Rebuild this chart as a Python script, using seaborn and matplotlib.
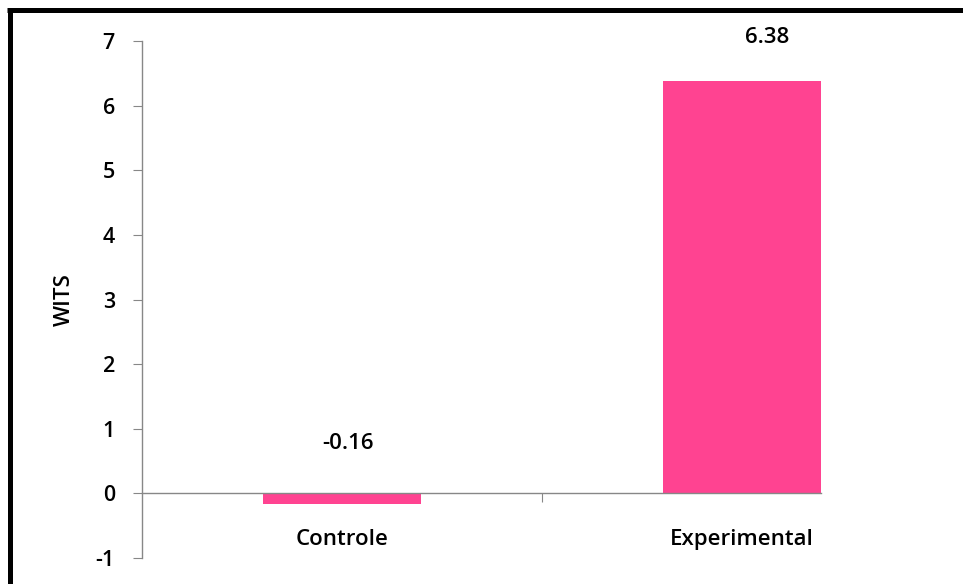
import matplotlib
matplotlib.use("Agg")
import matplotlib.pyplot as plt
import seaborn as sns
import pandas as pd
from matplotlib.lines import Line2D

categories = ["Controle", "Experimental"]
values = [-0.16, 6.38]
value_labels = ["-0.16", "6.38"]
y_ticks = [-1, 0, 1, 2, 3, 4, 5, 6, 7]
y_label = "WITS"

sns.set_theme(style="white")
plt.rcParams['font.family'] = ['Open Sans', 'DejaVu Sans']
plt.rcParams['font.weight'] = 'semibold'
plt.rcParams['text.color'] = 'black'
plt.rcParams['xtick.color'] = 'black'
plt.rcParams['ytick.color'] = 'black'

FS = 16
WT = 'semibold'

df = pd.DataFrame({"grupo": categories, "valor": values})

fig = plt.figure(figsize=(9.63, 5.84), dpi=100)
ax = fig.add_axes([142/963, 26/584, 800/963, 517/584])

bar_w = 0.395
sns.barplot(data=df, x="grupo", y="valor", color="#FF4391", width=bar_w,
            saturation=1, ax=ax, linewidth=0)

ax.set_xlim(-0.5, 1.5)
ax.set_ylim(-1, 7)
ax.set_yticks(y_ticks)
ax.set_yticklabels([str(t) for t in y_ticks], fontsize=15.5, fontweight=WT, color='black')

spine_c = "#878787"
for s in ["top", "right"]:
    ax.spines[s].set_visible(False)
ax.spines["left"].set_color(spine_c)
ax.spines["left"].set_linewidth(1.0)
ax.spines["bottom"].set_position(("data", 0))
ax.spines["bottom"].set_color(spine_c)
ax.spines["bottom"].set_linewidth(1.0)
ax.spines["bottom"].set_bounds(-0.5, 1 + bar_w / 2)

ax.tick_params(axis="y", direction="out", length=6.5, width=0.8, color=spine_c,
               pad=13, left=True, labelcolor='black')
ax.set_xticks([0, 1])
ax.set_xticklabels(categories, fontsize=FS, fontweight=WT, color='black')
ax.tick_params(axis="x", which="major", length=0, pad=26, bottom=True, labelcolor='black')
ax.set_xticks([0.5], minor=True)
ax.tick_params(axis="x", which="minor", direction="out", length=6.5, width=0.8,
               color=spine_c, bottom=True)

ax.set_xlabel("")
ax.set_ylabel(y_label, fontsize=FS, fontweight=WT, color='black')
ax.yaxis.set_label_coords(-0.0835, 0.499)

# data labels (above bar top / zero line)
label_dx = [4, 18]     # horizontal offset in points
label_dy = [0.77, 0.68]  # vertical offset in data units
for i, (v, lab) in enumerate(zip(values, value_labels)):
    ax.annotate(lab, xy=(i, max(v, 0) + label_dy[i]), xytext=(label_dx[i], 0),
                textcoords="offset points", ha="center", va="center",
                fontsize=FS, fontweight=WT, color='black', annotation_clip=False)

# frame lines
fig.add_artist(Line2D([7/963, 1.0], [1 - 10/584, 1 - 10/584], transform=fig.transFigure,
                      color="black", lw=3.6, solid_capstyle="butt"))
fig.add_artist(Line2D([9.5/963, 9.5/963], [0, 1 - 8/584], transform=fig.transFigure,
                      color="black", lw=3.6, solid_capstyle="butt"))

fig.savefig("out.png", dpi=100)
